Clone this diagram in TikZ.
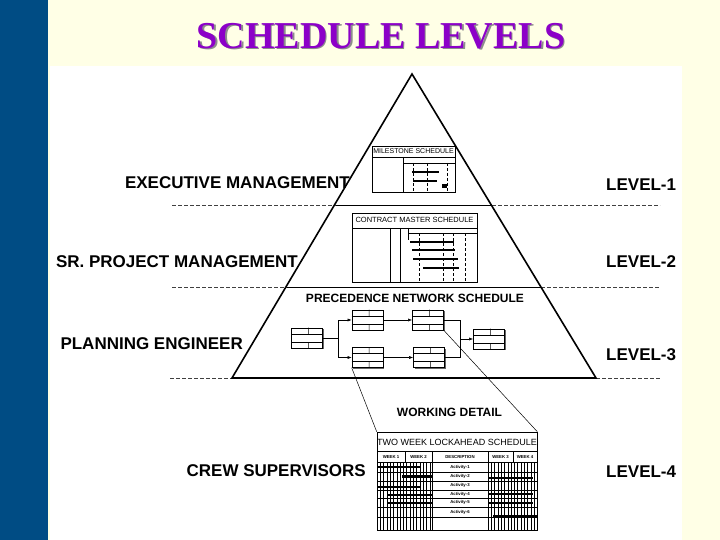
\documentclass[tikz,border=0pt]{standalone}
\usepackage{fontspec}
\setmainfont{Liberation Serif}
\setsansfont{Liberation Sans}
\usetikzlibrary{arrows.meta,calc,shadows}

\definecolor{slideblue}{RGB}{0,76,132}
\definecolor{cream}{RGB}{255,255,230}
\definecolor{titlepurple}{RGB}{140,0,200}

\tikzset{
  titletext/.style={font=\bfseries\fontsize{38}{38}\selectfont, inner sep=0pt},
  lvl/.style={font=\sffamily\bfseries\fontsize{17}{17}\selectfont, inner sep=0pt},
  subhead/.style={font=\sffamily\bfseries\fontsize{12}{12}\selectfont, inner sep=0pt},
  boxhead/.style={font=\sffamily\fontsize{7}{7}\selectfont, inner sep=0pt},
  tiny/.style={font=\sffamily\bfseries\fontsize{4.3}{4.3}\selectfont, inner sep=0pt},
  levelline/.style={dash pattern=on 4pt off 2pt, black!75, line width=0.6pt},
  schedbox/.style={draw, line width=0.6pt, fill=white, inner sep=0pt,
    drop shadow={shadow xshift=1.2pt, shadow yshift=-1.2pt, fill=black!60, opacity=1}},
  netbox/.style={draw, line width=0.6pt, fill=white, minimum width=31pt,
    minimum height=20pt, inner sep=0pt,
    drop shadow={shadow xshift=1pt, shadow yshift=-1pt, fill=black!60, opacity=1}},
  bar/.style={line width=2.6pt},
  flow/.style={-{Latex[length=4pt,width=3pt]}, line width=0.5pt}
}

\begin{document}
\begin{tikzpicture}[x=1pt,y=-1pt]
    % slide background
    \fill[cream] (0,0) rectangle (720,540);
    \useasboundingbox (0,0) rectangle (720,540);
    \fill[slideblue] (0,0) rectangle (48,540);
    \fill[white] (50,66) rectangle (682,540);

    % title
    \node[titletext, text=black!45] (titleshadow) at (382.5,37.5) {SCHEDULE LEVELS};
    \node[titletext, text=titlepurple] (title) at (381,36) {SCHEDULE LEVELS};

    % level separators
    \draw[levelline] (172,205) -- (336,205);
    \draw[line width=0.6pt] (336,205) -- (492,205);
    \draw[levelline] (492,205) -- (660,205);
    \draw[levelline] (172,287) -- (287,287);
    \draw[line width=0.6pt] (287,287) -- (541,287);
    \draw[levelline] (541,287) -- (660,287);
    \draw[levelline] (170,378) -- (232,378);
    \draw[levelline] (596,378) -- (660,378);

    % pyramid
    \draw[line width=1.6pt, line join=miter] (412,74) -- (596,378) -- (232,378) -- cycle;

    % labels
    \node[lvl, anchor=east] (exec) at (350,183) {EXECUTIVE MANAGEMENT};
    \node[lvl, anchor=east] (srpm) at (298,262) {SR. PROJECT MANAGEMENT};
    \node[lvl, anchor=east] (plan) at (243,344) {PLANNING ENGINEER};
    \node[lvl, anchor=east] (crew) at (366,471) {CREW SUPERVISORS};
    \node[lvl, anchor=west] (lev1) at (606,185) {LEVEL-1};
    \node[lvl, anchor=west] (lev2) at (606,262) {LEVEL-2};
    \node[lvl, anchor=west] (lev3) at (606,355) {LEVEL-3};
    \node[lvl, anchor=west] (lev4) at (606,472) {LEVEL-4};

    % Level 1: milestone schedule
    \node[schedbox, minimum width=83pt, minimum height=46pt] (ms) at (413.5,169) {};
    \node[boxhead] (mshead) at (413.5,151) {MILESTONE SCHEDULE};
    \draw[line width=0.5pt] (372,157) -- (455,157);
    \draw[line width=0.5pt] (403,157) -- (403,192);
    \draw[line width=0.5pt] (403,163) -- (455,163);
    \foreach \x in {413,427,447}
        \draw[densely dashed, line width=0.4pt] (\x,163) -- (\x,192);
    \draw[bar] (412,172) -- (439,172);
    \draw[bar] (413,181) -- (437,181);
    \fill (442,184) rectangle (447,188);

    % Level 2: contract master schedule
    \node[schedbox, minimum width=125pt, minimum height=69pt] (cms) at (414.5,247.5) {};
    \node[boxhead, font=\sffamily\fontsize{7.5}{7.5}\selectfont] (cmshead) at (414.5,220) {CONTRACT MASTER SCHEDULE};
    \draw[line width=0.5pt] (352,228) -- (477,228);
    \draw[line width=0.5pt] (390,228) -- (390,282);
    \draw[line width=0.5pt] (400,228) -- (400,282);
    \draw[line width=0.4pt] (408,228) -- (408,240);
    \draw[line width=0.4pt] (408,233) -- (477,233);
    \foreach \x in {419,443,453,465}
        \draw[densely dashed, line width=0.4pt] (\x,233) -- (\x,282);
    \draw[bar] (410,242) -- (454,242);
    \draw[bar] (412,250) -- (455,250);
    \draw[bar] (413,259) -- (458,259);
    \draw[bar] (423,268) -- (459,268);

    % Level 3: precedence network
    \node[subhead] (pns) at (415,298) {PRECEDENCE NETWORK SCHEDULE};
    \node[netbox] (na) at (307,338) {};
    \node[netbox] (nb) at (367.5,320) {};
    \node[netbox] (nc) at (428,320) {};
    \node[netbox] (nd) at (367.5,357.5) {};
    \node[netbox] (ne) at (429,357.5) {};
    \node[netbox] (nf) at (489,339) {};
    \foreach \b in {na,nb,nc,nd,ne,nf} {
        \draw[line width=0.4pt] ($(\b.north west)!0.3!(\b.south west)$) -- ($(\b.north east)!0.3!(\b.south east)$);
        \draw[line width=0.4pt] ($(\b.north west)!0.7!(\b.south west)$) -- ($(\b.north east)!0.7!(\b.south east)$);
        \draw[line width=0.4pt] ($(\b.north west)!0.55!(\b.north east)$) -- ($($(\b.north west)!0.55!(\b.north east)$)!0.3!($(\b.south west)!0.55!(\b.south east)$)$);
        \draw[line width=0.4pt] ($(\b.south west)!0.55!(\b.south east)$) -- ($($(\b.south west)!0.55!(\b.south east)$)!0.3!($(\b.north west)!0.55!(\b.north east)$)$);
    }
    \coordinate (jl) at (338,338);
    \coordinate (jr) at (460,339);
    \draw[line width=0.5pt] (na.east) -- (jl);
    \draw[flow] (jl) |- (nb.west);
    \draw[flow] (jl) |- (nd.west);
    \draw[flow] (nb.east) -- (nc.west);
    \draw[flow] (nd.east) -- (ne.west);
    \draw[line width=0.5pt] (nc.east) -| (jr);
    \draw[line width=0.5pt] (ne.east) -| (jr);
    \draw[flow] (jr) -- (nf.west);

    % Level 4: two week lookahead
    \node[subhead] (wd) at (449.5,412) {WORKING DETAIL};
    \node[schedbox, minimum width=160pt, minimum height=98pt] (twk) at (457,481) {};
    \draw[line width=0.5pt] (nd.south west) -- (twk.north west);
    \draw[line width=0.5pt] (nc.south east) -- (twk.north east);
    \node[boxhead, font=\sffamily\fontsize{9}{9}\selectfont] (twkhead) at (457,442) {TWO WEEK LOCKAHEAD SCHEDULE};
    \draw[line width=0.6pt] (377,451) -- (537,451);
    \foreach \x in {405,432,488,513}
        \draw[line width=0.6pt] (\x,451) -- (\x,462);
    \draw[line width=0.6pt] (432,462) -- (432,530);
    \draw[line width=0.6pt] (488,462) -- (488,530);
    \foreach \x in {380.3,383.6,...,430}
        \draw[line width=0.5pt] (\x,462) -- (\x,530);
    \foreach \x in {491.3,494.6,...,536}
        \draw[line width=0.5pt] (\x,462) -- (\x,530);
    \foreach \y in {462,472,481,490,498,507,517}
        \draw[line width=0.5pt] (377,\y) -- (537,\y);
    \node[tiny] (w1) at (391,457) {WEEK 1};
    \node[tiny] (w2) at (418.5,457) {WEEK 2};
    \node[tiny] (desc) at (460,457) {DESCRIPTION};
    \node[tiny] (w3) at (500.5,457) {WEEK 3};
    \node[tiny] (w4) at (525,457) {WEEK 4};
    \foreach \n/\y in {1/467,2/476.5,3/485.5,4/494,5/502.5,6/512}
        \node[tiny, fill=white, inner sep=0.5pt] (act\n) at (460,\y) {Activity-\n};
    \draw[bar] (377,467) -- (420,467);
    \draw[bar] (402,476.5) -- (432,476.5);
    \draw[bar] (488,478) -- (533,478);
    \draw[bar] (377,487) -- (420,487);
    \draw[bar] (387,495) -- (432,495);
    \draw[bar] (488,494) -- (533,494);
    \draw[bar] (387,503) -- (432,503);
    \draw[bar] (488,503) -- (533,503);
    \draw[bar] (493,516) -- (537,516);
\end{tikzpicture}
\end{document}
